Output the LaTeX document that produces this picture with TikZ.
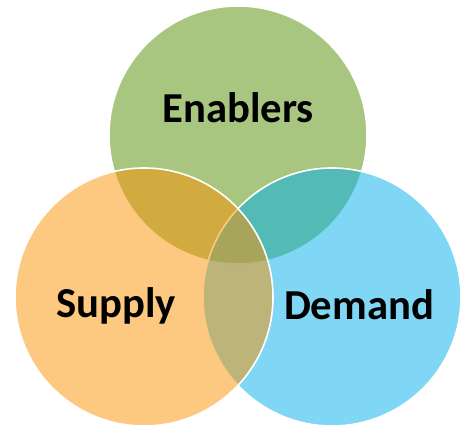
\documentclass[tikz,border=0pt]{standalone}
\usepackage{fontspec}
\setmainfont{Carlito}
\definecolor{enablersgreen}{RGB}{81,141,1}
\definecolor{supplyorange}{RGB}{251,145,1}
\definecolor{demandblue}{RGB}{0,175,235}
\tikzset{
    venn/.style={circle, minimum size=258*0.75pt, inner sep=0pt, fill opacity=0.5, draw=white, line width=1.2pt},
    vennlabel/.style={font=\fontsize{32}{36}\selectfont\bfseries, inner sep=0pt}
}
\begin{document}
\begin{tikzpicture}[x=0.75pt, y=-0.75pt]
    \useasboundingbox (0,0) rectangle (462,428);

    % Circles (green first, then blue, orange on top)
    \node[venn, fill=enablersgreen] (enablers) at (238,135) {};
    \node[venn, fill=demandblue] (demand) at (332,297) {};
    \node[venn, fill=supplyorange] (supply) at (144,297) {};

    % Labels
    \node[vennlabel] (enablerstext) at (238,108) {Enablers};
    \node[vennlabel] (supplytext) at (116,306) {Supply};
    \node[vennlabel] (demandtext) at (359,305) {Demand};
\end{tikzpicture}
\end{document}
